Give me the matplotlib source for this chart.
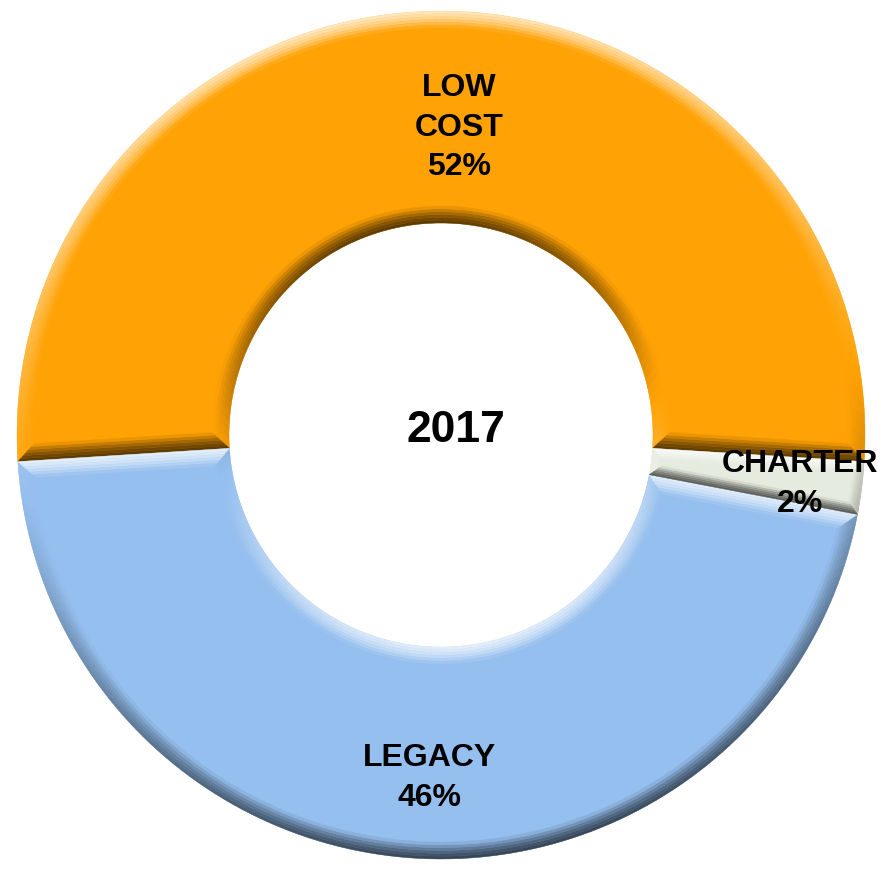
import numpy as np
import matplotlib.pyplot as plt
from matplotlib.patches import Polygon
from matplotlib.colors import to_rgb

plt.rcParams['font.family'] = ['Liberation Sans', 'DejaVu Sans']

categories = ["LOW\nCOST", "LEGACY", "CHARTER"]
shares = [52, 46, 2]
colors = ["#FFA205", "#95BFEE", "#E6EBDF"]
year = "2017"

# label anchor points (data units, radius = 1)
label_pos = [(0.043, 0.725), (-0.028, -0.81), (0.847, -0.115)]

W, H = 883, 871
R_PX = 424
CX, CY = 441, 436  # donut centre in pixels from bottom-left

fig = plt.figure(figsize=(W / 100, H / 100), dpi=100)
ax = fig.add_axes([0, 0, 1, 1])

wedges, _ = ax.pie(shares, colors=colors, startangle=-3.6, counterclock=True,
                   radius=1, wedgeprops=dict(width=0.5, linewidth=0))

ax.set_aspect('auto')
ax.set_xlim(-CX / R_PX, (W - CX) / R_PX)
ax.set_ylim(-CY / R_PX, (H - CY) / R_PX)
ax.axis('off')

light = np.array([-0.15, 1.0])
light = light / np.linalg.norm(light)


def shade(base, t, s):
    # t: facing towards light (-1..1), s: 0 at edge .. 1 inside
    k = t * (1 - s ** 1.5)
    base = np.array(base)
    if k >= 0:
        return tuple(base + (1 - base) * 0.75 * k)
    return tuple(base * (1 + 0.65 * k))


def bevel(w, face):
    r_out = w.r
    r_in = w.r - w.width
    t1, t2 = np.radians(w.theta1), np.radians(w.theta2)
    span = t2 - t1
    b = min(0.04, 0.4 * span * r_in)
    po = np.arcsin(b / (r_out - b))
    pi_ = np.arcsin(b / (r_in + b))
    n_band = 6
    facets = []
    # outer arc
    a_out = np.linspace(t1, t2, 120)
    a_ins = np.linspace(t1 + po, t2 - po, 120)
    for i in range(119):
        m = 0.5 * (a_out[i] + a_out[i + 1])
        nrm = np.array([np.cos(m), np.sin(m)])
        p = [(r_out * np.cos(a_out[i]), r_out * np.sin(a_out[i])),
             (r_out * np.cos(a_out[i + 1]), r_out * np.sin(a_out[i + 1])),
             ((r_out - b) * np.cos(a_ins[i + 1]), (r_out - b) * np.sin(a_ins[i + 1])),
             ((r_out - b) * np.cos(a_ins[i]), (r_out - b) * np.sin(a_ins[i]))]
        facets.append((p, nrm))
    # inner arc
    a_out = np.linspace(t1, t2, 80)
    a_ins = np.linspace(t1 + pi_, t2 - pi_, 80)
    for i in range(79):
        m = 0.5 * (a_out[i] + a_out[i + 1])
        nrm = -np.array([np.cos(m), np.sin(m)])
        p = [(r_in * np.cos(a_out[i]), r_in * np.sin(a_out[i])),
             (r_in * np.cos(a_out[i + 1]), r_in * np.sin(a_out[i + 1])),
             ((r_in + b) * np.cos(a_ins[i + 1]), (r_in + b) * np.sin(a_ins[i + 1])),
             ((r_in + b) * np.cos(a_ins[i]), (r_in + b) * np.sin(a_ins[i]))]
        facets.append((p, nrm))
    # radial edges
    for t, sgn in ((t1, -1), (t2, 1)):
        nrm = np.array([np.cos(t + sgn * np.pi / 2), np.sin(t + sgn * np.pi / 2)])
        p = [(r_out * np.cos(t), r_out * np.sin(t)),
             (r_in * np.cos(t), r_in * np.sin(t)),
             ((r_in + b) * np.cos(t - sgn * pi_), (r_in + b) * np.sin(t - sgn * pi_)),
             ((r_out - b) * np.cos(t - sgn * po), (r_out - b) * np.sin(t - sgn * po))]
        facets.append((p, nrm))
    for p, nrm in facets:
        p = np.array(p)
        tt = float(np.dot(nrm, light))
        for j in range(n_band):
            s0, s1 = j / n_band, (j + 1) / n_band
            q = [p[0] + (p[3] - p[0]) * s0, p[1] + (p[2] - p[1]) * s0,
                 p[1] + (p[2] - p[1]) * s1, p[0] + (p[3] - p[0]) * s1]
            c = shade(face, tt, 0.5 * (s0 + s1))
            ax.add_patch(Polygon(q, closed=True, facecolor=c, edgecolor=c,
                                 linewidth=0.3, zorder=2))


for w, c in zip(wedges, colors):
    bevel(w, to_rgb(c))

for (x, y), name, val in zip(label_pos, categories, shares):
    ax.text(x, y, f"{name}\n{val}%", ha='center', va='center',
            fontsize=23, fontweight='bold', linespacing=1.43, zorder=5)

ax.text(0.035, 0.01, year, ha='center', va='center', fontsize=32,
        fontweight='bold', zorder=5)

fig.savefig("out.png", dpi=100)
